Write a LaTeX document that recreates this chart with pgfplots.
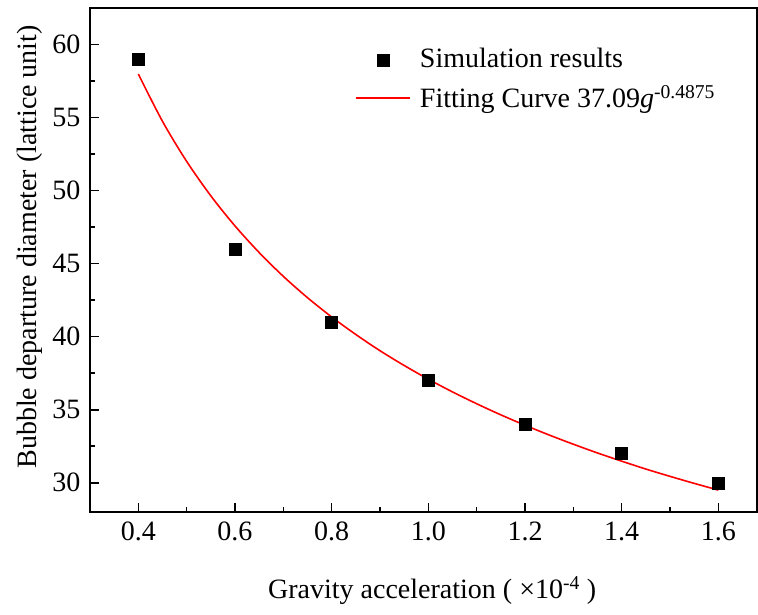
\documentclass[border=0pt]{standalone}
\usepackage{fontspec}
\setmainfont{Liberation Serif}
\usepackage{pgfplots}
\pgfplotsset{compat=1.18}
\usetikzlibrary{calc}
\begin{document}
\fontsize{28}{32}\selectfont
\begin{tikzpicture}
\begin{axis}[
  scale only axis,
  width=667pt, height=504pt,
  xmin=0.3, xmax=1.68, ymin=28, ymax=62.5,
  xtick={0.4,0.6,0.8,1.0,1.2,1.4,1.6},
  ytick={30,35,40,45,50,55,60},
  minor tick num=1,
  xtick pos=bottom, ytick pos=left,
  tick align=inside,
  major tick length=9pt, minor tick length=5pt,
  every tick/.style={line width=1.6pt, black},
  axis line style={line width=1.6pt},
  /pgf/number format/assume math mode=true,
  xticklabel style={/pgf/number format/.cd, fixed, fixed zerofill, precision=1},
  yticklabel style={/pgf/number format/.cd, fixed, precision=0},
  ticklabel style={font=\fontsize{28}{32}\selectfont},
  xlabel={Gravity acceleration ( ×10\textsuperscript{-4} )},
  ylabel={Bubble departure diameter (lattice unit)},
  label style={font=\fontsize{28}{32}\selectfont},
  xlabel style={at={(axis description cs:0.513,-0.155)}, anchor=center},
  ylabel style={at={(axis description cs:-0.09,0.526)}, anchor=center, rotate=0},
  legend style={draw=none, fill=none, at={(axis description cs:0.393,0.928)}, anchor=north west, font=\fontsize{28}{32}\selectfont, row sep=9pt,
    /tikz/every odd column/.append style={column sep=7pt}},
  legend cell align=left,
  legend image code/.code={\draw[mark repeat=2,mark phase=2] plot coordinates {(0cm,0cm)(0.95cm,0cm)(1.9cm,0cm)};},
]
\coordinate (ll) at (rel axis cs:0,0);
\coordinate (ur) at (rel axis cs:1,1);
\addplot[only marks, mark=square*, mark size=6pt, black] coordinates {
(0.4,59) (0.6,46) (0.8,41) (1.0,37) (1.2,34) (1.4,32) (1.6,30)
};
\addlegendentry{Simulation results}
\addplot[red, line width=1.6pt, smooth, no marks] coordinates {
(0.40,57.98) (0.45,54.74) (0.50,52.00) (0.55,49.64) (0.60,47.58) (0.65,45.76)
(0.70,44.13) (0.75,42.67) (0.80,41.35) (0.85,40.15) (0.90,39.04) (0.95,38.03)
(1.00,37.09) (1.05,36.22) (1.10,35.41) (1.15,34.65) (1.20,33.94) (1.25,33.27)
(1.30,32.64) (1.35,32.04) (1.40,31.48) (1.45,30.94) (1.50,30.44) (1.55,29.96)
(1.60,29.50)
};
\addlegendentry{Fitting Curve 37.09\textit{g}\textsuperscript{-0.4875}}
\end{axis}
\pgfresetboundingbox
\path ($(ll)+(-90pt,-103pt)$) rectangle ($(ur)+(1pt,8pt)$);
\end{tikzpicture}
\end{document}
